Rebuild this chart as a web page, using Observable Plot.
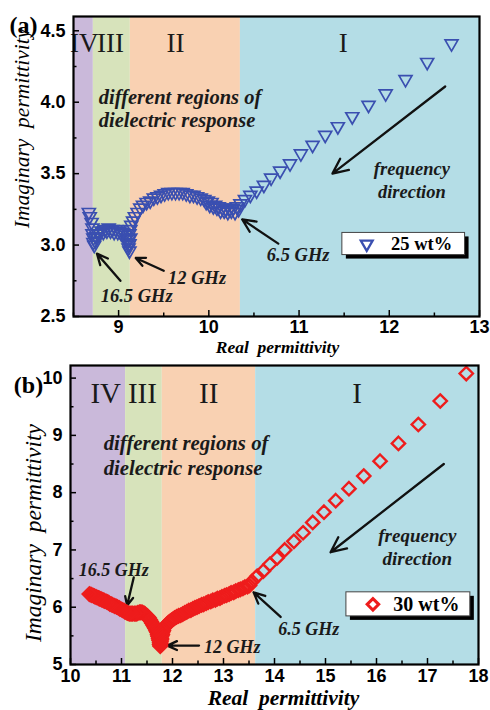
<!DOCTYPE html>
<html>
<head>
<meta charset="utf-8">
<script src="https://cdn.jsdelivr.net/npm/d3@7"></script>
<script src="https://cdn.jsdelivr.net/npm/@observablehq/plot@0.6"></script>
<style>
  html, body { margin: 0; padding: 0; background: #fff; }
  #chart svg { display: block; }
</style>
</head>
<body>
<div id="chart"></div>
<script>
// ---------- Panel (a): 25 wt% ----------
const aReal = [12.69,12.42,12.18,11.96,11.77,11.59,11.43,11.29,11.15,11.02,10.90,10.79,10.69,10.61,10.53,10.46,10.40,10.35,10.33,10.31,10.29,10.27,10.25,10.23,10.21,10.19,10.17,10.15,10.13,10.11,10.09,10.07,10.05,10.03,10.01,9.99,9.97,9.95,9.91,9.87,9.83,9.79,9.75,9.71,9.67,9.63,9.59,9.55,9.51,9.47,9.43,9.39,9.35,9.31,9.27,9.24,9.21,9.18,9.16,9.14,9.13,9.12,9.13,9.11,9.12,9.11,9.12,9.11,9.10,9.09,9.07,9.05,9.03,9.01,8.99,8.97,8.95,8.93,8.91,8.89,8.87,8.85,8.83,8.81,8.79,8.77,8.75,8.74,8.73,8.72,8.72,8.71,8.71,8.70,8.68,8.67];
const aImag = [4.41,4.28,4.16,4.06,3.98,3.90,3.83,3.77,3.70,3.64,3.57,3.52,3.47,3.42,3.38,3.35,3.32,3.29,3.25,3.27,3.23,3.26,3.24,3.25,3.23,3.25,3.24,3.26,3.24,3.27,3.26,3.28,3.27,3.30,3.28,3.31,3.30,3.32,3.33,3.34,3.35,3.35,3.36,3.37,3.37,3.37,3.37,3.37,3.36,3.35,3.34,3.33,3.31,3.30,3.28,3.26,3.23,3.20,3.17,3.14,3.11,3.08,3.05,3.04,3.01,3.00,2.96,2.98,3.02,3.05,3.07,3.09,3.08,3.10,3.09,3.11,3.09,3.11,3.10,3.12,3.10,3.11,3.09,3.10,3.08,3.08,3.06,3.03,3.00,3.02,3.05,3.08,3.12,3.16,3.20,3.23];
const aRegionNames = ["IV","III","II","I"];
const aRegionStart = [8.5, 8.72, 9.13, 10.35];
const aRegionEnd   = [8.72, 9.13, 10.35, 13];
const aRegionLabelX = [8.62, 8.91, 9.63, 11.49];
const aXTicks = [9,10,11,12,13];
const aXMinor = [8.5,9.5,10.5,11.5,12.5];
const aYTicks = [2.5,3.0,3.5,4.0,4.5];
const aYMinor = [2.75,3.25,3.75,4.25];
const aFreqLabels = ["6.5 GHz","12 GHz","16.5 GHz"];
const aFreqLabelX = [10.99, 9.87, 9.20];
const aFreqLabelY = [2.93, 2.77, 2.64];
const aArrowFromX = [10.77, 9.50, 9.02, 12.62];
const aArrowFromY = [3.01, 2.82, 2.75, 4.11];
const aArrowToX   = [10.37, 9.19, 8.76, 11.37];
const aArrowToY   = [3.18, 2.91, 2.94, 3.50];
const aLegendLabel = "25 wt%";

// ---------- Panel (b): 30 wt% ----------
const bReal = [17.76,17.25,16.82,16.43,16.07,15.75,15.46,15.20,14.97,14.75,14.56,14.38,14.20,14.05,13.91,13.78,13.66,13.56,13.51,13.47,13.42,13.38,13.33,13.29,13.24,13.20,13.15,13.11,13.06,13.02,12.97,12.93,12.88,12.84,12.79,12.75,12.70,12.66,12.61,12.57,12.52,12.48,12.44,12.40,12.36,12.32,12.28,12.24,12.20,12.16,12.12,12.08,12.04,12.01,11.98,11.95,11.92,11.89,11.86,11.84,11.82,11.81,11.80,11.79,11.78,11.78,11.77,11.77,11.76,11.76,11.75,11.75,11.74,11.73,11.72,11.71,11.70,11.68,11.66,11.64,11.62,11.60,11.58,11.56,11.54,11.52,11.50,11.47,11.45,11.42,11.40,11.37,11.35,11.32,11.30,11.27,11.25,11.22,11.20,11.17,11.15,11.12,11.10,11.07,11.05,11.02,11.00,10.97,10.95,10.92,10.90,10.87,10.85,10.82,10.80,10.77,10.75,10.72,10.70,10.67,10.65,10.62,10.60,10.57,10.55,10.52,10.50,10.47,10.45,10.42,10.40,10.37];
const bImag = [10.08,9.60,9.19,8.86,8.55,8.29,8.07,7.86,7.66,7.48,7.30,7.15,7.00,6.86,6.75,6.63,6.54,6.45,6.38,6.36,6.35,6.33,6.31,6.30,6.28,6.26,6.25,6.23,6.21,6.20,6.18,6.16,6.15,6.13,6.12,6.10,6.09,6.07,6.05,6.04,6.02,6.00,5.99,5.97,5.95,5.94,5.92,5.90,5.88,5.86,5.85,5.83,5.81,5.79,5.77,5.75,5.73,5.70,5.67,5.64,5.60,5.57,5.53,5.50,5.46,5.43,5.40,5.37,5.34,5.32,5.35,5.38,5.42,5.45,5.49,5.52,5.56,5.59,5.63,5.66,5.69,5.72,5.75,5.78,5.81,5.83,5.85,5.87,5.89,5.90,5.91,5.91,5.91,5.90,5.89,5.89,5.89,5.89,5.89,5.89,5.89,5.90,5.91,5.92,5.94,5.95,5.96,5.97,5.99,6.00,6.01,6.02,6.03,6.04,6.05,6.06,6.08,6.09,6.10,6.11,6.12,6.13,6.14,6.15,6.16,6.17,6.18,6.19,6.20,6.21,6.22,6.23];
const bRegionNames = ["IV","III","II","I"];
const bRegionStart = [10, 11.08, 11.8, 13.63];
const bRegionEnd   = [11.08, 11.8, 13.63, 18];
const bRegionLabelX = [10.69, 11.41, 12.71, 15.62];
const bXTicks = [10,11,12,13,14,15,16,17,18];
const bXMinor = [10.5,11.5,12.5,13.5,14.5,15.5,16.5,17.5];
const bYTicks = [5,6,7,8,9,10];
const bYMinor = [5.5,6.5,7.5,8.5,9.5];
const bFreqLabels = ["6.5 GHz","12 GHz","16.5 GHz"];
const bFreqLabelX = [14.67, 13.17, 10.85];
const bFreqLabelY = [5.62, 5.31, 6.65];
const bArrowFromX = [14.12, 12.52, 11.24, 17.32];
const bArrowFromY = [5.83, 5.33, 6.52, 8.50];
const bArrowToX   = [13.59, 11.90, 11.11, 15.10];
const bArrowToY   = [6.26, 5.33, 6.03, 6.96];
const bLegendLabel = "30 wt%";

// ---------- styles ----------
const regionColors = ["#cab9da", "#d7e3bb", "#f9d1b2", "#b4dde6"];
const serif = "Liberation Serif, Times New Roman, serif";
const sans = "Liberation Sans, Arial, sans-serif";

function panel(cfg) {
  const pts = cfg.real.map((x, i) => ({x, y: cfg.imag[i]}));
  const regions = cfg.regionNames.map((n, i) => ({name: n, x1: cfg.regStart[i], x2: cfg.regEnd[i], lx: cfg.regLabelX[i], color: regionColors[i]}));
  const freq = cfg.freqLabels.map((t, i) => ({t, x: cfg.freqX[i], y: cfg.freqY[i]}));
  const arrows = cfg.arrFromX.map((x1, i) => ({x1, y1: cfg.arrFromY[i], x2: cfg.arrToX[i], y2: cfg.arrToY[i]}));
  const noText = () => "";
  return Plot.plot({
    width: 490,
    height: cfg.h,
    marginTop: cfg.mt, marginBottom: cfg.mb, marginLeft: cfg.ml, marginRight: cfg.mr,
    x: {domain: cfg.xDomain},
    y: {domain: cfg.yDomain},
    color: {type: "identity"},
    style: {fontFamily: sans, fontSize: "18px", fontWeight: "bold", color: "#000", background: "transparent"},
    marks: [
      Plot.rect(regions, {x1: "x1", x2: "x2", fill: "color"}),
      Plot.text(regions, {x: "lx", y: cfg.regLabelY, text: "name", fontFamily: serif, fontWeight: "normal", fontSize: cfg.regFont, fill: "#1a1a1a"}),
      Plot.text(["different regions of", "dielectric response"], {
        x: cfg.descX, y: (d, i) => cfg.descY[i], text: d => d, textAnchor: "start",
        fontFamily: serif, fontStyle: "italic", fontWeight: "bold", fontSize: cfg.descFont, fill: "#1a1a1a"}),
      Plot.text(["frequency", "direction"], {
        x: cfg.fdX, y: (d, i) => cfg.fdY[i], text: d => d,
        fontFamily: serif, fontStyle: "italic", fontWeight: "bold", fontSize: cfg.fdFont, fill: "#1a1a1a"}),
      Plot.arrow(arrows, {x1: "x1", y1: "y1", x2: "x2", y2: "y2", stroke: "#111", strokeWidth: 2.3, headLength: 11, headAngle: 50}),
      Plot.text(freq, {x: "x", y: "y", text: "t", fontFamily: serif, fontStyle: "italic", fontWeight: "bold", fontSize: cfg.freqFont, fill: "#1a1a1a"}),
      Plot.dot(pts, {x: "x", y: "y", symbol: cfg.symbol, rotate: cfg.rotate, r: cfg.r, stroke: cfg.color, strokeWidth: cfg.sw, fill: "none"}),
      // legend
      Plot.rect([0], {x1: cfg.legX1, x2: cfg.legX2, y1: cfg.legY1, y2: cfg.legY2, fill: "#000", dx: 4, dy: 4}),
      Plot.rect([0], {x1: cfg.legX1, x2: cfg.legX2, y1: cfg.legY1, y2: cfg.legY2, fill: "#fff", stroke: "#444", strokeWidth: 1}),
      Plot.dot([0], {x: cfg.legDotX, y: (cfg.legY1 + cfg.legY2) / 2, symbol: cfg.symbol, rotate: cfg.rotate, r: cfg.legR, stroke: cfg.color, strokeWidth: cfg.sw + 0.6, fill: "none"}),
      Plot.text([cfg.legendLabel], {x: cfg.legTextX, y: (cfg.legY1 + cfg.legY2) / 2, text: d => d, textAnchor: "start", fontFamily: serif, fontWeight: "bold", fontSize: cfg.legFont, fill: "#000"}),
      Plot.frame({stroke: "#000", strokeWidth: 2.2}),
      // ticks (inward)
      Plot.axisX({ticks: cfg.xTicks, tickSize: -6, tickFormat: noText, label: null, strokeWidth: 1.5}),
      Plot.axisX({ticks: cfg.xMinor, tickSize: -3.5, tickFormat: noText, label: null, strokeWidth: 1.5}),
      Plot.axisY({ticks: cfg.yTicks, tickSize: -6, tickFormat: noText, label: null, strokeWidth: 1.5}),
      Plot.axisY({ticks: cfg.yMinor, tickSize: -3.5, tickFormat: noText, label: null, strokeWidth: 1.5}),
      // tick labels
      Plot.axisX({ticks: cfg.xTicks, tickSize: 0, tickPadding: cfg.xPad, tickFormat: d => String(d), label: null}),
      Plot.axisY({ticks: cfg.yTicks, tickSize: 0, tickPadding: 8, tickFormat: cfg.yFormat, label: null}),
      // axis titles
      Plot.text(["Real\u00a0\u00a0permittivity"], {frameAnchor: "bottom", textAnchor: "middle", lineAnchor: "middle", dx: cfg.xtDx, dy: cfg.xtDy, text: d => d, fontFamily: serif, fontStyle: "italic", fontWeight: "bold", fontSize: cfg.xtFont}),
      Plot.text(["Imaginary\u00a0\u00a0permittivity"], {frameAnchor: "left", textAnchor: "middle", lineAnchor: "middle", rotate: -90, dx: cfg.ytDx, dy: cfg.ytDy, text: d => d, fontFamily: serif, fontStyle: "italic", fontWeight: "normal", fontSize: cfg.ytFont}),
      Plot.text([cfg.panelLabel], {frameAnchor: "top-left", textAnchor: "middle", lineAnchor: "middle", dx: cfg.plDx, dy: cfg.plDy, text: d => d, fontFamily: serif, fontWeight: "bold", fontSize: 24})
    ]
  });
}

const chartA = panel({
  real: aReal, imag: aImag,
  regionNames: aRegionNames, regStart: aRegionStart, regEnd: aRegionEnd, regLabelX: aRegionLabelX, regLabelY: 4.41, regFont: 27,
  h: 361, mt: 16, mb: 45, ml: 73, mr: 11,
  xDomain: [8.5, 13], yDomain: [2.5, 4.6],
  descX: 8.78, descY: [4.03, 3.87], descFont: 20.5,
  fdX: 12.25, fdY: [3.53, 3.37], fdFont: 18.5,
  freqLabels: aFreqLabels, freqX: aFreqLabelX, freqY: aFreqLabelY, freqFont: 18.5,
  arrFromX: aArrowFromX, arrFromY: aArrowFromY, arrToX: aArrowToX, arrToY: aArrowToY,
  symbol: "triangle", rotate: 180, r: 4.8, color: "#3a4fb0", sw: 1.7,
  legX1: 11.48, legX2: 12.84, legY1: 2.93, legY2: 3.085, legDotX: 11.75, legR: 4.4, legTextX: 12.02, legFont: 18.5, legendLabel: aLegendLabel,
  xTicks: aXTicks, xMinor: aXMinor, yTicks: aYTicks, yMinor: aYMinor, yFormat: d => d.toFixed(1), xPad: 4,
  xtDx: 1, xtDy: 31, xtFont: 17.5, ytDx: -51, ytDy: -38, ytFont: 21.5,
  panelLabel: "(a)", plDx: -50, plDy: 9
});

const chartB = panel({
  real: bReal, imag: bImag,
  regionNames: bRegionNames, regStart: bRegionStart, regEnd: bRegionEnd, regLabelX: bRegionLabelX, regLabelY: 9.73, regFont: 29,
  h: 349, mt: 4, mb: 46, ml: 70, mr: 12,
  xDomain: [10, 18], yDomain: [5, 10.22],
  descX: 10.65, descY: [8.86, 8.42], descFont: 20.8,
  fdX: 16.8, fdY: [7.25, 6.85], fdFont: 19,
  freqLabels: bFreqLabels, freqX: bFreqLabelX, freqY: bFreqLabelY, freqFont: 18,
  arrFromX: bArrowFromX, arrFromY: bArrowFromY, arrToX: bArrowToX, arrToY: bArrowToY,
  symbol: "diamond2", rotate: 0, r: 6, color: "#ee1c1c", sw: 2.4,
  legX1: 15.41, legX2: 17.84, legY1: 5.84, legY2: 6.26, legDotX: 15.93, legR: 5.2, legTextX: 16.33, legFont: 20, legendLabel: bLegendLabel,
  xTicks: bXTicks, xMinor: bXMinor, yTicks: bYTicks, yMinor: bYMinor, yFormat: d => String(d), xPad: 5,
  xtDx: 9, xtDy: 34, xtFont: 21.5, ytDx: -37, ytDy: 18, ytFont: 23.5,
  panelLabel: "(b)", plDx: -42, plDy: 20
});

document.getElementById("chart").append(chartA, chartB);
</script>
</body>
</html>
